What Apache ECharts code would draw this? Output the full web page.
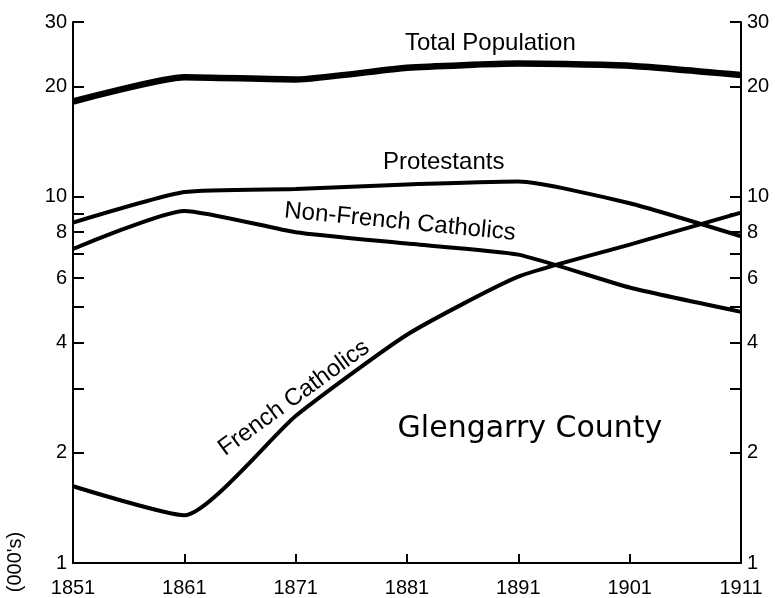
<!DOCTYPE html>
<html><head><meta charset="utf-8">
<script src="https://cdn.jsdelivr.net/npm/echarts@6/dist/echarts.min.js"></script>
<style>html,body{margin:0;padding:0;background:#fff}#c{width:775px;height:598px}</style>
</head><body><div id="c"></div>
<script>
const years = ['1851','1861','1871','1881','1891','1901','1911'];
const totalPopulation = [18.2, 21.2, 20.9, 22.5, 23.1, 22.8, 21.5];
const protestants = [8.5, 10.3, 10.5, 10.8, 11.0, 9.6, 7.8];
const nonFrenchCatholics = [7.2, 9.15, 8.0, 7.45, 6.95, 5.65, 4.85];
const frenchCatholics = [1.62, 1.35, 2.52, 4.2, 6.05, 7.4, 9.05];
const yTickValues = [1,2,3,4,5,6,7,8,9,10,20,30];
const yLabelValues = [1,2,4,6,8,10,20,30];

const FONT = 'Liberation Sans';
const chart = echarts.init(document.getElementById('c'), null, {renderer:'canvas'});
function yAx(pos, margin){
  return {
    type:'log', logBase:10, min:1, max:30, position:pos,
    axisLine:{show:true, lineStyle:{color:'#000', width:2}},
    axisTick:{show:true, inside:true, length:11, lineStyle:{color:'#000', width:2}, customValues:yTickValues},
    axisLabel:{show:true, color:'#000', fontSize:20, fontFamily:FONT, margin:margin, customValues:yLabelValues},
    splitLine:{show:false}, minorTick:{show:false}
  };
}
const lineSeries = (name, data, w) => ({
  name, type:'line', data, yAxisIndex:0, smooth:0.18, symbol:'none',
  lineStyle:{color:'#000', width:w}, z: 3
});
chart.setOption({
  animation:false,
  grid:{left:73, right:34, top:22, bottom:31, containLabel:false},
  xAxis:{type:'category', data:years, boundaryGap:false,
    axisLine:{show:true, lineStyle:{color:'#000', width:2}},
    axisTick:{show:true, inside:true, length:9, alignWithLabel:true, lineStyle:{color:'#000', width:2}},
    axisLabel:{color:'#000', fontSize:20, fontFamily:FONT, margin:15}},
  yAxis:[yAx('left', 6), yAx('right', 6)],
  series:[
    lineSeries('Total Population', totalPopulation, 6.5),
    lineSeries('Protestants', protestants, 4),
    lineSeries('Non-French Catholics', nonFrenchCatholics, 4),
    lineSeries('French Catholics', frenchCatholics, 4)
  ],
  graphic:[
    {type:'text', x:405, y:43, style:{text:'Total Population', font:'24px "Liberation Sans"', fill:'#000', verticalAlign:'middle'}},
    {type:'text', x:383, y:162, style:{text:'Protestants', font:'24px "Liberation Sans"', fill:'#000', verticalAlign:'middle'}},
    {type:'text', x:400, y:222, rotation:-5.6*Math.PI/180, style:{text:'Non-French Catholics', font:'24px "Liberation Sans"', fill:'#000', align:'center', verticalAlign:'middle'}},
    {type:'text', x:294, y:398, rotation:36*Math.PI/180, style:{text:'French Catholics', font:'24px "Liberation Sans"', fill:'#000', align:'center', verticalAlign:'middle'}},
    {type:'text', x:530, y:429, style:{text:'Glengarry County', font:'30px "DejaVu Sans"', fill:'#000', align:'center', verticalAlign:'middle'}},
    {type:'text', x:15, y:562, rotation:Math.PI/2, style:{text:"(000's)", font:'20px "Liberation Sans"', fill:'#000', align:'center', verticalAlign:'middle'}}
  ]
});
</script></body></html>
